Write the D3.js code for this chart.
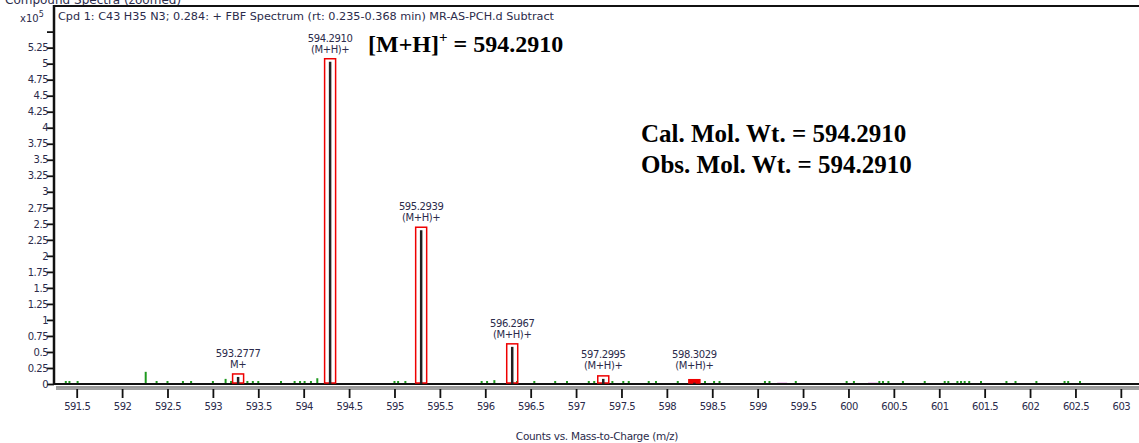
<!DOCTYPE html>
<html>
<head>
<meta charset="utf-8">
<script src="https://cdn.jsdelivr.net/npm/d3@7"></script>
<style>
    body { margin: 0; background: #fff; }
    svg { display: block; }
    .lbl { font-family: Tahoma, "DejaVu Sans", sans-serif; fill: #2b2b4b; }
</style>
</head>
<body>
<svg id="chart" width="1139" height="443"></svg>
<script>
// main (labelled) peaks, intensity in x10^5 counts
const peakMz = [593.2777, 594.2910, 595.2939, 596.2967, 597.2995, 598.3029];
const peakCounts = [0.11, 5.03, 2.40, 0.58, 0.08, 0.02];
const peakIon = ['M+', '(M+H)+', '(M+H)+', '(M+H)+', '(M+H)+', '(M+H)+'];

// small green noise peaks
const noiseMz = [591.38, 591.42, 591.51, 592.26, 592.38, 592.5, 592.67, 592.76, 593.0, 593.14, 593.2,
    593.38, 593.44, 593.5, 593.75, 593.9, 593.96, 594.01, 594.08, 594.15, 595.0, 595.04, 595.12,
    595.96, 596.02, 596.1, 596.35, 596.54, 596.77, 596.9, 597.14, 597.2, 597.4, 597.52, 597.58,
    597.8, 597.88, 598.12, 598.42, 598.52, 598.58, 599.08, 599.13, 599.42, 599.98, 600.06, 600.34,
    600.38, 600.44, 600.6, 600.84, 601.06, 601.1, 601.2, 601.24, 601.28, 601.33, 601.46, 601.74,
    601.84, 602.07, 602.38, 602.42, 602.55];
const noiseCounts = [0.03, 0.03, 0.03, 0.19, 0.03, 0.02, 0.02, 0.02, 0.02, 0.08, 0.04,
    0.03, 0.03, 0.03, 0.02, 0.02, 0.03, 0.03, 0.03, 0.09, 0.03, 0.03, 0.04,
    0.03, 0.03, 0.06, 0.03, 0.03, 0.02, 0.02, 0.03, 0.03, 0.03, 0.02, 0.02,
    0.02, 0.02, 0.02, 0.02, 0.02, 0.02, 0.03, 0.03, 0.02, 0.03, 0.02, 0.03,
    0.03, 0.03, 0.02, 0.02, 0.03, 0.03, 0.03, 0.03, 0.03, 0.03, 0.02, 0.02,
    0.02, 0.02, 0.03, 0.03, 0.02];

// magenta peaks
const otherMz = [599.27, 600.27];
const otherCounts = [0.02, 0.02];

const xTicks = d3.range(591.5, 603.01, 0.5);
const yTicks = d3.range(0, 5.51, 0.25);
const yLabelMax = 5.25;

const svg = d3.select('#chart');
const plotL = 54, plotT = 6, base = 384, plotR = 1139;

const x = d3.scaleLinear().domain([591.25, 603.2]).range([plotL, plotR]);
const y = d3.scaleLinear().domain([0, 5.9]).range([base, plotT]);

// header, cut by the top of the picture as in the original
svg.append('text')
    .attr('x', 5).attr('y', 4)
    .attr('class', 'lbl')
    .style('font-size', '12px')
    .text('Compound Spectra (zoomed)');

// frame top
svg.append('line')
    .attr('x1', plotL).attr('x2', plotR).attr('y1', plotT).attr('y2', plotT)
    .attr('stroke', '#111').attr('stroke-width', 2);

// y axis
const yAxis = d3.axisLeft(y)
    .tickValues(yTicks)
    .tickSize(7)
    .tickFormat(d => d > yLabelMax + 0.01 ? '' : d3.format('~g')(+d.toFixed(2)));
const gy = svg.append('g')
    .attr('transform', `translate(${plotL},0)`)
    .call(yAxis);
gy.select('.domain').remove();
gy.selectAll('.tick line').attr('stroke', '#111').attr('stroke-width', 1.8);
gy.selectAll('.tick text')
    .attr('class', 'lbl')
    .attr('x', -6)
    .style('font-size', '10px')
    .style('letter-spacing', '-0.5px');
svg.append('line')
    .attr('x1', plotL).attr('x2', plotL).attr('y1', plotT - 1).attr('y2', base + 1)
    .attr('stroke', '#111').attr('stroke-width', 2.5);

// x10^5
const mult = svg.append('text').attr('class', 'lbl')
    .attr('x', 20).attr('y', 22).style('font-size', '10px');
mult.append('tspan').text('x10');
mult.append('tspan').attr('dy', -5).style('font-size', '8px').text('5');

// x axis band
svg.append('line')
    .attr('x1', plotL).attr('x2', plotR).attr('y1', base).attr('y2', base)
    .attr('stroke', '#111').attr('stroke-width', 2);
svg.append('line')
    .attr('x1', plotL + 2).attr('x2', plotR).attr('y1', base + 3).attr('y2', base + 3)
    .attr('stroke', '#999').attr('stroke-width', 2);
svg.append('line')
    .attr('x1', plotL + 2).attr('x2', plotR).attr('y1', base + 5).attr('y2', base + 5)
    .attr('stroke', '#444').attr('stroke-width', 1);

const xAxis = d3.axisBottom(x)
    .tickValues(xTicks)
    .tickSize(9)
    .tickPadding(5)
    .tickFormat(d3.format('.1~f'));
const gx = svg.append('g')
    .attr('transform', `translate(0,${base + 5})`)
    .call(xAxis);
gx.select('.domain').remove();
gx.selectAll('.tick line').attr('stroke', '#111').attr('stroke-width', 1.8);
gx.selectAll('.tick text')
    .attr('class', 'lbl')
    .style('font-size', '10px')
    .style('letter-spacing', '-0.5px');

svg.append('text')
    .attr('class', 'lbl')
    .attr('x', 597).attr('y', 440)
    .attr('text-anchor', 'middle')
    .style('font-size', '10.5px')
    .style('letter-spacing', '-0.3px')
    .text('Counts vs. Mass-to-Charge (m/z)');

// spectrum header
svg.append('text')
    .attr('class', 'lbl')
    .attr('x', 58).attr('y', 20)
    .style('font-size', '10.5px')
    .attr('textLength', 496)
    .attr('lengthAdjust', 'spacingAndGlyphs')
    .text('Cpd 1: C43 H35 N3; 0.284: + FBF Spectrum (rt: 0.235-0.368 min) MR-AS-PCH.d  Subtract');

// noise peaks
const noise = noiseMz.map((m, i) => ({ mz: m, v: noiseCounts[i] }));
svg.append('g').selectAll('line')
    .data(noise)
    .join('line')
    .attr('x1', d => x(d.mz)).attr('x2', d => x(d.mz))
    .attr('y1', base - 1).attr('y2', d => Math.min(y(d.v), base - 3))
    .attr('stroke', '#1f9a1f').attr('stroke-width', 2);

const other = otherMz.map((m, i) => ({ mz: m, v: otherCounts[i] }));
svg.append('g').selectAll('rect')
    .data(other)
    .join('rect')
    .attr('x', d => x(d.mz) - 5).attr('width', 10)
    .attr('y', d => y(d.v)).attr('height', d => base - 1 - y(d.v))
    .attr('fill', '#cc55cc');

// labelled peaks
const peaks = peakMz.map((m, i) => ({ mz: m, v: peakCounts[i], ion: peakIon[i] }));
const pg = svg.append('g');
pg.selectAll('rect')
    .data(peaks)
    .join('rect')
    .attr('x', d => x(d.mz) - 5.5).attr('width', 11)
    .attr('y', d => y(d.v) - 3)
    .attr('height', d => base - y(d.v) + 2)
    .attr('fill', (d, i) => i === 5 ? '#e00' : 'none')
    .attr('stroke', '#e00').attr('stroke-width', 1.5);
pg.selectAll('line')
    .data(peaks)
    .join('line')
    .attr('x1', d => x(d.mz)).attr('x2', d => x(d.mz))
    .attr('y1', base).attr('y2', d => y(d.v))
    .attr('stroke', '#222').attr('stroke-width', 2.5);

const lab = pg.selectAll('text.pk')
    .data(peaks)
    .join('text')
    .attr('class', 'lbl pk')
    .attr('text-anchor', 'middle')
    .style('font-size', '10px')
    .style('letter-spacing', '-0.4px');
lab.append('tspan')
    .attr('x', d => x(d.mz))
    .attr('y', d => Math.min(y(d.v) - 20, 358))
    .text(d => d.mz.toFixed(4));
lab.append('tspan')
    .attr('x', d => x(d.mz))
    .attr('y', d => Math.min(y(d.v) - 9, 369))
    .text(d => d.ion);

// annotations
const serif = '"Liberation Serif", "Times New Roman", serif';
const ann = svg.append('text')
    .attr('x', 368).attr('y', 52)
    .style('font-family', serif).style('font-weight', 'bold').style('font-size', '24px');
ann.append('tspan').text('[M+H]');
ann.append('tspan').attr('dy', -10).style('font-size', '15px').text('+');
ann.append('tspan').attr('dy', 10).text(' = 594.2910');

svg.append('text')
    .attr('x', 641).attr('y', 142)
    .style('font-family', serif).style('font-weight', 'bold').style('font-size', '25px')
    .text('Cal. Mol. Wt. = 594.2910');
svg.append('text')
    .attr('x', 641).attr('y', 173)
    .style('font-family', serif).style('font-weight', 'bold').style('font-size', '25px')
    .text('Obs. Mol. Wt. = 594.2910');
</script>
</body>
</html>
